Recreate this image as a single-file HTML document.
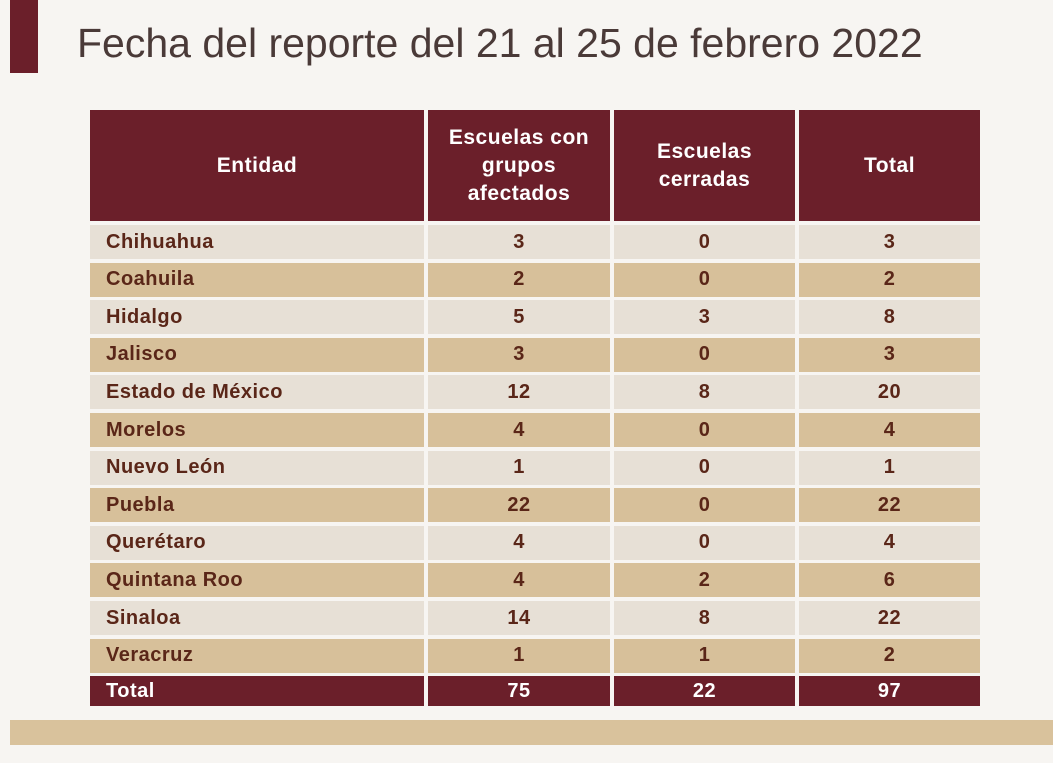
<!DOCTYPE html>
<html><head><meta charset="utf-8"><style>
body{margin:0;width:1053px;height:763px;background:#f7f5f2;position:relative;overflow:hidden;font-family:"Liberation Sans",sans-serif}
.bar{position:absolute;left:10px;top:0;width:28px;height:73px;background:#6b1f2a}
.title{position:absolute;left:77px;top:20px;font-size:41px;color:#4a3a38;letter-spacing:0px}
.band{position:absolute;left:10px;top:720px;width:1043px;height:25px;background:#d9c29c}
.c{position:absolute;display:flex;align-items:center;justify-content:center;font-weight:bold;font-size:20px;letter-spacing:0.5px;color:#5a2618;box-sizing:border-box}
.l{justify-content:flex-start;padding-left:16px}
.h{background:#6b1f2a;color:#fff;text-align:center;line-height:28px;font-size:21px}
</style></head><body>
<div class="bar"></div>
<div class="title">Fecha del reporte del 21 al 25 de febrero 2022</div>
<div class="band"></div>
<div id="t"></div>
<script>
var cols=[[90,334],[428,182],[614,181],[799,181]];
var rows=[["Chihuahua",3,0,3],["Coahuila",2,0,2],["Hidalgo",5,3,8],["Jalisco",3,0,3],["Estado de México",12,8,20],["Morelos",4,0,4],["Nuevo León",1,0,1],["Puebla",22,0,22],["Querétaro",4,0,4],["Quintana Roo",4,2,6],["Sinaloa",14,8,22],["Veracruz",1,1,2]];
var h=["Entidad","Escuelas con<br>grupos<br>afectados","Escuelas<br>cerradas","Total"];
var s="";
for(var j=0;j<4;j++)s+='<div class="c h" style="left:'+cols[j][0]+'px;top:110px;width:'+cols[j][1]+'px;height:111px">'+h[j]+'</div>';
for(var i=0;i<12;i++){var y=225+i*37.6;var bg=i%2?"#d7c09a":"#e7e0d6";
for(var j=0;j<4;j++)s+='<div class="c'+(j==0?' l':'')+'" style="left:'+cols[j][0]+'px;top:'+y+'px;width:'+cols[j][1]+'px;height:34px;background:'+bg+'">'+rows[i][j]+'</div>';}
var tt=["Total",75,22,97];
for(var j=0;j<4;j++)s+='<div class="c'+(j==0?' l':'')+'" style="left:'+cols[j][0]+'px;top:676px;width:'+cols[j][1]+'px;height:30px;background:#6b1f2a;color:#fff">'+tt[j]+'</div>';
document.getElementById("t").innerHTML=s;
</script>
</body></html>
